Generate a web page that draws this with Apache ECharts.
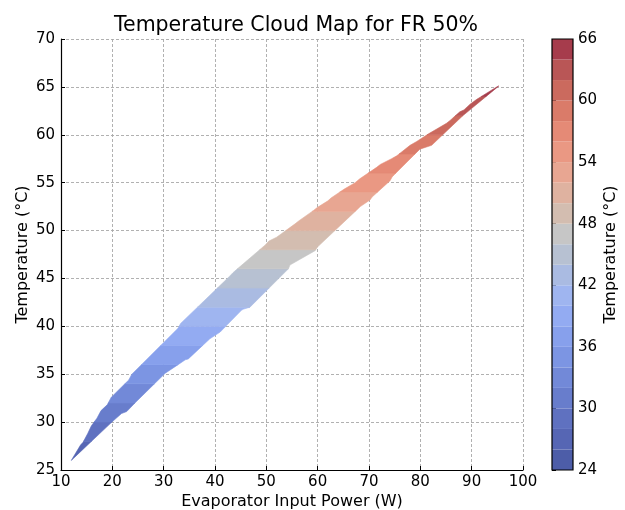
<!DOCTYPE html>
<html>
<head>
<meta charset="utf-8">
<script src="https://cdn.jsdelivr.net/npm/echarts@6/dist/echarts.min.js"></script>
<style>
  html, body { margin: 0; padding: 0; background: #fff; }
  #chart { width: 625px; height: 510px; }
</style>
</head>
<body>
<div id="chart"></div>
<script>
// Upper-left boundary of the measured region: [power (W), temperature (°C)]
const upperEdge = [
  [12.0, 26.0], [13.8, 27.6], [14.3, 27.9], [15.2, 28.8], [15.9, 29.6],
  [17.0, 30.4], [17.8, 31.2], [19.0, 31.8], [19.8, 32.6], [23.2, 34.4],
  [23.8, 35.0], [32.8, 39.8], [33.3, 40.3], [42.8, 45.2], [43.5, 45.6],
  [49.8, 48.5], [50.5, 48.9], [52.0, 49.3], [55.6, 50.7], [56.3, 51.0],
  [59.2, 52.1], [59.9, 52.4], [62.0, 53.1], [62.6, 53.4], [65.1, 54.3],
  [67.3, 55.0], [68.2, 55.4], [71.5, 56.6], [72.2, 56.9], [74.4, 57.5],
  [75.4, 57.8], [78.0, 58.9], [79.3, 59.3], [81.6, 60.1], [83.2, 60.6],
  [85.1, 61.2], [85.8, 61.5], [87.7, 62.4], [88.5, 62.6], [89.7, 63.2],
  [91.0, 63.7], [94.9, 65.0], [95.3, 65.1]
];

// Lower-right boundary of the measured region: [power (W), temperature (°C)]
const lowerEdge = [
  [12.0, 26.0], [19.9, 30.0], [21.8, 30.9], [22.8, 31.1], [24.4, 32.0],
  [30.3, 35.1], [34.2, 36.5], [34.8, 36.6], [39.0, 38.7], [41.0, 39.4],
  [45.2, 41.7], [45.6, 41.8], [46.8, 42.0], [54.3, 46.0], [54.6, 46.4],
  [59.5, 47.9], [60.0, 48.3], [68.3, 52.5], [70.2, 53.2], [70.6, 53.5],
  [74.1, 55.2], [74.5, 55.6], [79.9, 58.5], [82.2, 58.9], [87.7, 61.7],
  [88.3, 62.0], [95.3, 65.1]
];

// Contour levels (°C) and the fill colour of each interval between them
const levels = [24, 26, 28, 30, 32, 34, 36, 38, 40, 42, 44, 46, 48, 50, 52, 54, 56, 58, 60, 62, 64, 66];
const levelColors = [
  '#4d5da8', '#5666b4', '#5f71c0', '#687dcc', '#7289d8', '#7c95e3', '#87a0ec',
  '#93abf2', '#9fb5f0', '#aabbe2', '#b7c1d2', '#c6c6c6', '#d3bdb0', '#dfb2a0',
  '#e8a692', '#ea9883', '#e58a76', '#da7b69', '#cb6a5e', '#b95656', '#a63c4c'
];

const FONT = 'DejaVu Sans';

// Closed outline of the region
const region = upperEdge.concat(lowerEdge.slice(1, -1).reverse());

// Clip a polygon against a horizontal line (keep side where keep(p) is true)
function clipHalf(poly, keep, yLine) {
  const out = [];
  for (let i = 0; i < poly.length; i++) {
    const a = poly[(i + poly.length - 1) % poly.length];
    const b = poly[i];
    const ina = keep(a), inb = keep(b);
    const cross = () => {
      const t = (yLine - a[1]) / (b[1] - a[1]);
      return [a[0] + t * (b[0] - a[0]), yLine];
    };
    if (inb) {
      if (!ina) out.push(cross());
      out.push(b);
    } else if (ina) {
      out.push(cross());
    }
  }
  return out;
}

function clipBand(poly, lo, hi) {
  let p = clipHalf(poly, q => q[1] >= lo, lo);
  if (p.length < 3) return [];
  p = clipHalf(p, q => q[1] <= hi, hi);
  return p.length < 3 ? [] : p;
}

const bandData = levels.slice(0, -1).map((lo, i) => [lo, levels[i + 1], i]);

const chart = echarts.init(document.getElementById('chart'), null, { renderer: 'canvas' });

const axisLabelStyle = { color: '#000', fontFamily: FONT, fontSize: 15 };
const nameStyle = { color: '#000', fontFamily: FONT, fontSize: 16 };
const gridLine = { show: true, lineStyle: { color: '#a8a8a8', type: [3, 2], width: 0.9 } };

chart.setOption({
  animation: false,
  backgroundColor: '#fff',
  title: {
    text: 'Temperature Cloud Map for FR 50%',
    left: 291,
    top: 10,
    textAlign: 'center',
    textStyle: { color: '#000', fontFamily: FONT, fontSize: 20.5, fontWeight: 'normal' }
  },
  grid: [
    { left: 61, top: 39, width: 462, height: 431, outerBoundsMode: 'none' },
    { left: 552, top: 39, width: 21, height: 431, outerBoundsMode: 'none' }
  ],
  xAxis: [
    {
      gridIndex: 0, type: 'value', min: 10, max: 100, interval: 10,
      name: 'Evaporator Input Power (W)', nameLocation: 'middle', nameGap: 24,
      nameMoveOverlap: false,
      nameTextStyle: nameStyle,
      axisLine: { show: true, onZero: false, lineStyle: { color: '#000', width: 1.2 } },
      axisTick: { show: true, inside: true, length: 4, lineStyle: { color: '#000' } },
      axisLabel: Object.assign({ margin: 5 }, axisLabelStyle),
      splitLine: gridLine
    },
    {
      gridIndex: 1, type: 'value', min: 0, max: 1, show: false
    }
  ],
  yAxis: [
    {
      gridIndex: 0, type: 'value', min: 25, max: 70, interval: 5,
      name: 'Temperature (°C)', nameLocation: 'middle', nameGap: 30,
      nameMoveOverlap: false,
      nameTextStyle: nameStyle,
      axisLine: { show: true, onZero: false, lineStyle: { color: '#000', width: 1.2 } },
      axisTick: { show: true, inside: true, length: 4, lineStyle: { color: '#000' } },
      axisLabel: Object.assign({ margin: 6 }, axisLabelStyle),
      splitLine: gridLine
    },
    {
      gridIndex: 1, type: 'value', min: 24, max: 66, interval: 6, position: 'right',
      name: 'Temperature (°C)', nameLocation: 'middle', nameGap: 30, nameRotate: 90,
      nameMoveOverlap: false,
      nameTextStyle: nameStyle,
      axisLine: { show: false },
      axisTick: { show: true, inside: false, length: 4, lineStyle: { color: '#000' } },
      axisLabel: Object.assign({ margin: 5 }, axisLabelStyle),
      splitLine: { show: false }
    }
  ],
  series: [
    {
      // filled temperature bands over the operating region
      type: 'custom',
      xAxisIndex: 0, yAxisIndex: 0,
      clip: true,
      data: bandData,
      renderItem: function (params, api) {
        const lo = api.value(0), hi = api.value(1), idx = api.value(2);
        const poly = clipBand(region, lo, hi);
        if (!poly.length) return null;
        const color = levelColors[idx];
        return {
          type: 'polygon',
          shape: { points: poly.map(p => api.coord(p)) },
          style: { fill: color, stroke: color, lineWidth: 0.6 }
        };
      }
    },
    {
      // colour bar cells
      type: 'custom',
      xAxisIndex: 1, yAxisIndex: 1,
      data: bandData,
      renderItem: function (params, api) {
        const lo = api.value(0), hi = api.value(1), idx = api.value(2);
        const p1 = api.coord([0, hi]);
        const p2 = api.coord([1, lo]);
        return {
          type: 'rect',
          shape: { x: p1[0], y: p1[1], width: p2[0] - p1[0], height: p2[1] - p1[1] },
          style: { fill: levelColors[idx] }
        };
      }
    },
    {
      // colour bar frame
      type: 'custom',
      xAxisIndex: 1, yAxisIndex: 1,
      z: 5,
      data: [[levels[0], levels[levels.length - 1]]],
      renderItem: function (params, api) {
        const p1 = api.coord([0, api.value(1)]);
        const p2 = api.coord([1, api.value(0)]);
        return {
          type: 'rect',
          shape: { x: p1[0], y: p1[1], width: p2[0] - p1[0], height: p2[1] - p1[1] },
          style: { fill: 'none', stroke: '#000', lineWidth: 1.2 }
        };
      }
    }
  ]
});
</script>
</body>
</html>
